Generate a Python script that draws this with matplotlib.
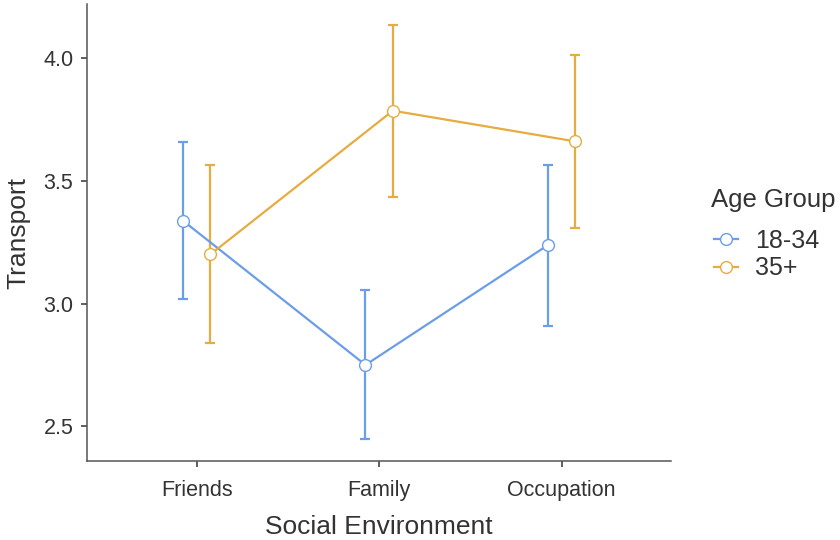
import matplotlib
matplotlib.use("Agg")
import matplotlib.pyplot as plt
import numpy as np

plt.rcParams['font.family'] = ['Liberation Sans', 'DejaVu Sans']

# Estimated marginal means of Transport with 95% CI, by social environment and age group
categories = ["Friends", "Family", "Occupation"]
groups = ["18-34", "35+"]
means = {
    "18-34": [3.337, 2.750, 3.238],
    "35+":   [3.200, 3.785, 3.660],
}
lower = {
    "18-34": [3.018, 2.447, 2.910],
    "35+":   [2.839, 3.435, 3.308],
}
upper = {
    "18-34": [3.656, 3.054, 3.565],
    "35+":   [3.565, 4.132, 4.010],
}
colors = {"18-34": "#6B9DE8", "35+": "#E6AC40"}
dodge = {"18-34": -0.075, "35+": 0.075}

fig = plt.figure(figsize=(8.4, 5.4), dpi=100)
ax = fig.add_axes([0.1039, 0.1454, 0.695, 0.8466])

x = np.arange(1, len(categories) + 1)
for g in groups:
    m = np.array(means[g])
    lo = np.array(lower[g])
    hi = np.array(upper[g])
    xs = x + dodge[g]
    ax.errorbar(xs, m, yerr=[m - lo, hi - m], fmt="none", ecolor=colors[g],
                elinewidth=1.6, capsize=3.6, capthick=1.6, zorder=2)
    ax.plot(xs, m, color=colors[g], lw=1.6, marker="o", markersize=8.5,
            markerfacecolor="white", markeredgecolor=colors[g],
            markeredgewidth=1.0, label=g, zorder=3)

ax.set_xlim(0.4, 3.6)
ax.set_ylim(2.357, 4.218)
ax.set_xticks(x)
ax.set_xticklabels(categories)
ax.set_yticks([2.5, 3.0, 3.5, 4.0])
ax.set_yticklabels(["2.5", "3.0", "3.5", "4.0"])

for s in ["top", "right"]:
    ax.spines[s].set_visible(False)
for s in ["left", "bottom"]:
    ax.spines[s].set_color("#555555")
    ax.spines[s].set_linewidth(1.1)
ax.tick_params(axis="both", colors="#333333", labelcolor="#333333",
               length=4, width=1.1, labelsize=15.5)
ax.tick_params(axis="x", pad=9)
ax.tick_params(axis="y", pad=6)

ax.set_xlabel("Social Environment", fontsize=19, color="#333333", labelpad=10.5)
ax.set_ylabel("Transport", fontsize=19, color="#333333", labelpad=9)

# Legend title drawn separately to leave room above the entries
fig.text(0.847, 0.630, "Age Group", fontsize=18.5, color="#333333",
         ha="left", va="center")
leg = fig.legend(loc="upper left", bbox_to_anchor=(0.85, 0.576),
                 frameon=False, fontsize=18,
                 handlelength=0.95, handletextpad=0.7, labelspacing=0.14,
                 borderaxespad=0.0, borderpad=0.0)
for t in leg.get_texts():
    t.set_color("#333333")

fig.savefig("out.png", dpi=100, facecolor="white")
